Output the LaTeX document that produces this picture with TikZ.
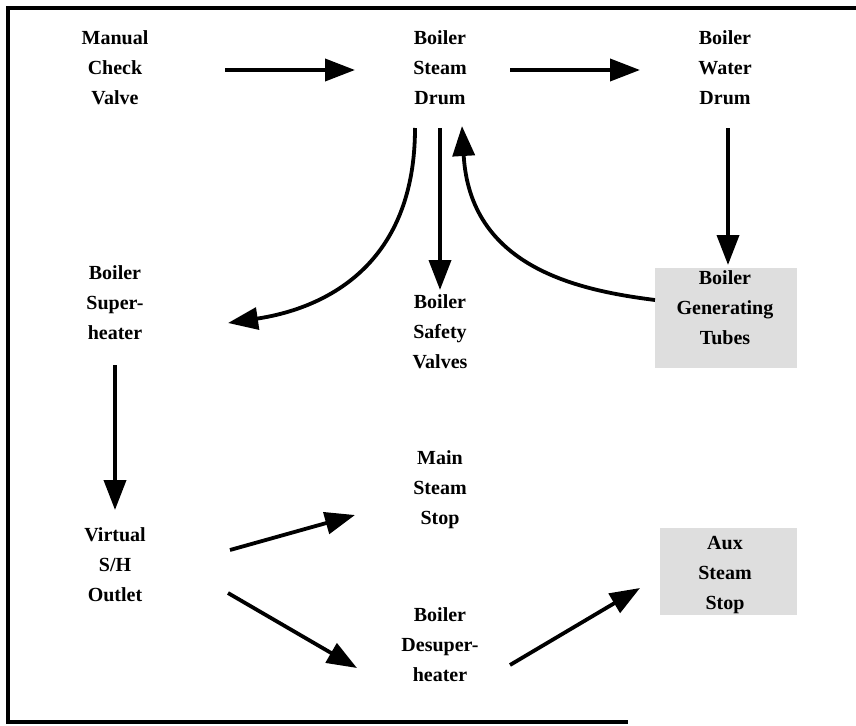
\documentclass[tikz,border=0pt]{standalone}
\usepackage{fontspec}
\setmainfont{Liberation Serif}
\usetikzlibrary{calc,arrows.meta,positioning,backgrounds}

\begin{document}
\begin{tikzpicture}[x=1pt,y=-1pt,>={Triangle[length=30pt,width=22pt]},on grid]
			\tikzset{block/.style= {align=center,inner sep=0pt,font=\fontsize{20}{30}\selectfont\bfseries},
				flow/.style= {->,line width=3.8pt},
				shadebox/.style= {fill=black!13},
			}
			\useasboundingbox (0,0) rectangle (856,725);

			\node [block] at (115,68) (check) {Manual\\Check\\Valve};
			\node [block, right = 325pt of check] (steam){Boiler\\Steam\\Drum};
			\node [block, right = 285pt of steam] (water){Boiler\\Water\\Drum};
			\node [block, below = 235pt of check] (superheat){Boiler\\Super-\\heater};
			\node [block, below = 264pt of steam] (safety){Boiler\\Safety\\Valves};
			\node [block, below = 240pt of water] (tubes){Boiler\\Generating\\Tubes};
			\node [block, below = 262pt of superheat] (outlet){Virtual\\S/H\\Outlet};
			\node [block, below = 158pt of safety] (mainstop){Main\\Steam\\Stop};
			\node [block, below = 155pt of mainstop] (desup){Boiler\\Desuper-\\heater};
			\node [block, below = 267pt of tubes] (aux){Aux\\Steam\\Stop};

			\begin{scope}[on background layer]
				\fill[shadebox] ([xshift=-70pt,yshift=40pt]tubes.center) rectangle ([xshift=72pt,yshift=-60pt]tubes.center);
				\fill[shadebox] ([xshift=-65pt,yshift=47pt]aux.center) rectangle ([xshift=72pt,yshift=-40pt]aux.center);
			\end{scope}

			% frame
			\draw[line width=4pt] (856,8) -- (8,8) -- (8,722) -- (628,722);

			\path[draw, flow]
			([xshift=110pt,yshift=-2pt]check.center) -- ([xshift=-85pt,yshift=-2pt]steam.center);
			\path[draw, flow]
			([xshift=70pt,yshift=-2pt]steam.center) -- ([xshift=-85pt,yshift=-2pt]water.center);
			\path[draw, flow]
			([xshift=3pt,yshift=-60pt]water.center) -- ([xshift=3pt,yshift=43pt]tubes.center);
			\path[draw, flow]
			([xshift=-25pt,yshift=-60pt]steam.center) .. controls +(0pt,-150pt) and +(80pt,12pt) .. ([xshift=113pt,yshift=-20pt]superheat.center);
			\path[draw, flow]
			([yshift=-60pt]steam.center) -- ([yshift=42pt]safety.center);
			\path[draw, flow]
			([xshift=-70pt,yshift=8pt]tubes.center) .. controls +(-80pt,10pt) and +(8pt,-140pt) .. ([xshift=22pt,yshift=-58pt]steam.center);
			\path[draw, flow]
			([yshift=-62pt]superheat.center) -- ([yshift=55pt]outlet.center);
			\path[draw, flow]
			([xshift=115pt,yshift=15pt]outlet.center) -- ([xshift=-85pt,yshift=-25pt]mainstop.center);
			\path[draw, flow]
			([xshift=113pt,yshift=-28pt]outlet.center) -- ([xshift=-83pt,yshift=-23pt]desup.center);
			\path[draw, flow]
			([xshift=70pt,yshift=-20pt]desup.center) -- ([xshift=-85pt,yshift=-13pt]aux.center);
		\end{tikzpicture}
\end{document}
